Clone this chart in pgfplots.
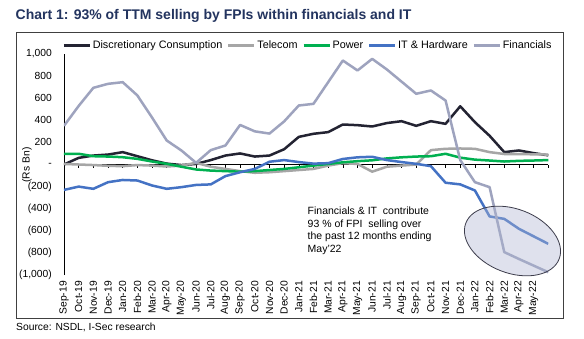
\documentclass[border=0pt]{standalone}
\usepackage{fontspec}
\setmainfont{Liberation Sans}
\usepackage{pgfplots}
\usepackage{pgfplotstable}
\pgfplotsset{compat=1.18}
\definecolor{dcc}{RGB}{35,35,50}
\definecolor{tel}{RGB}{166,166,166}
\definecolor{pow}{RGB}{0,176,80}
\definecolor{itc}{RGB}{68,114,196}
\definecolor{fin}{RGB}{158,163,190}
\definecolor{ttl}{RGB}{35,52,95}
\definecolor{ell}{RGB}{175,182,210}
\definecolor{elld}{RGB}{60,60,75}

\pgfplotstableread{
i dc tel pow it fin
0 0 5 97 -230 350
1 60 0 97 -200 530
2 81 -5 75 -220 694
3 90 -12 72 -160 730
4 112 -15 66 -140 745
5 75 -5 51 -145 625
6 38 -10 27 -190 425
7 8 -18 6 -220 217
8 -5 -10 -20 -205 127
9 5 15 -45 -185 15
10 40 -20 -55 -180 130
11 81 -40 -60 -105 172
12 100 -60 -65 -70 358
13 72 -75 -60 -40 300
14 81 -70 -50 25 280
15 138 -60 -40 40 390
16 250 -50 -25 22 534
17 278 -40 -10 8 549
18 293 -10 5 12 745
19 362 12 20 50 941
20 356 5 30 65 851
21 344 -65 38 70 956
22 375 -20 55 40 860
23 392 -10 65 22 750
24 350 0 72 6 640
25 392 130 75 -15 670
26 368 142 97 -165 579
27 527 145 62 -180 40
28 383 142 44 -235 -160
29 260 112 36 -470 -205
30 112 95 27 -492 -793
31 127 95 33 -582 -855
32 103 92 36 -650 -915
33 83 90 40 -718 -975
}\data

\begin{document}
\begin{tikzpicture}
% image pixel (X,Y) -> (X-64, 275-Y) pt ; axis box lower-left at (0,0)
\begin{scope}[x=1pt,y=1pt,shift={(-64pt,-63pt)}]
\fill[white] (0,0) rectangle (584,338);
\draw[black!75, line width=0.8pt] (16,20) rectangle (563,306);
\node[anchor=base west, font=\bfseries\fontsize{14}{16}\selectfont, text=ttl, inner sep=0pt] at (15.5,318) {Chart 1: 93\% of TTM selling by FPIs within financials and IT};
\node[anchor=base west, font=\fontsize{10.3}{12}\selectfont, inner sep=0pt] at (16,8) {Source: NSDL, I-Sec research};
\node[rotate=90, font=\fontsize{10.3}{12}\selectfont, inner sep=0pt] at (27,173) {(Rs Bn)};
\end{scope}

\begin{axis}[anchor=south west, at={(0pt,0pt)}, scale only axis,
  width=484.3pt, height=221pt,
  xmin=0, xmax=33, ymin=-1000, ymax=1000,
  axis x line=middle, axis y line=left,
  axis line style={-, black, line width=0.8pt},
  hide obscured x ticks=false, hide obscured y ticks=false,
  xtick={0,...,33}, xticklabels={},
  ytick={-1000,-800,...,1000},
  yticklabels={{(1,000)},{(800)},{(600)},{(400)},{(200)},{-},{200},{400},{600},{800},{1,000}},
  tick align=outside, major tick length=3pt,
  x tick style={black, line width=0.6pt},
  y tick style={draw=none},
  yticklabel style={font=\fontsize{10.3}{12}\selectfont, inner sep=0pt, xshift=-9pt},
  legend columns=5,
  legend style={at={(-0.004,1.04)}, anchor=west, draw=none, fill=none, inner sep=0pt,
    font=\fontsize{10.8}{12}\selectfont, nodes={inner sep=1.5pt},
    /tikz/every even column/.append style={column sep=3pt}},
  legend image code/.code={\draw[#1, line width=3pt, line cap=butt] (0pt,0pt) -- (26pt,0pt);},
  every axis plot/.append style={line width=2.5pt, line join=round, no marks},
]
\addplot[dcc] table[x=i, y=dc] {\data};
\addlegendentry{Discretionary Consumption}
\addplot[tel] table[x=i, y=tel] {\data};
\addlegendentry{Telecom}
\addplot[pow] table[x=i, y=pow] {\data};
\addlegendentry{Power}
\addplot[itc] table[x=i, y=it] {\data};
\addlegendentry{IT \& Hardware}
\addplot[fin] table[x=i, y=fin] {\data};
\addlegendentry{Financials}
\end{axis}

\begin{axis}[anchor=south west, at={(0pt,0pt)}, scale only axis,
  width=484.3pt, height=221pt,
  xmin=0, xmax=33, ymin=-1000, ymax=1000,
  axis x line=bottom, axis y line=none,
  x axis line style={draw=none, -},
  xtick={0,...,32},
  xticklabels={Sep-19,Oct-19,Nov-19,Dec-19,Jan-20,Feb-20,Mar-20,Apr-20,May-20,Jun-20,Jul-20,Aug-20,Sep-20,Oct-20,Nov-20,Dec-20,Jan-21,Feb-21,Mar-21,Apr-21,May-21,Jun-21,Jul-21,Aug-21,Sep-21,Oct-21,Nov-21,Dec-21,Jan-22,Feb-22,Mar-22,Apr-22,May-22},
  major tick length=0pt, x tick style={draw=none},
  xticklabel style={rotate=90, anchor=east, font=\fontsize{10.3}{12}\selectfont, inner xsep=6pt, inner ysep=0pt},
  ytick=\empty,
]
\end{axis}

\begin{scope}[x=1pt,y=1pt,shift={(-64pt,-63pt)}]
\filldraw[fill=ell, fill opacity=0.4, draw=elld, line width=0.8pt, rotate around={-21:(512.5,97)}] (512.5,97) ellipse [x radius=50pt, y radius=32pt];
\node[anchor=north west, align=left, inner sep=0pt, font=\fontsize{10.5}{12.5}\selectfont] at (307.5,131) {Financials \& IT~ contribute\\93 \% of FPI~ selling over\\the past 12 months ending\\May'22};
\end{scope}

\pgfresetboundingbox
\path[use as bounding box] (-64pt,-63pt) rectangle (520pt,275pt);
\end{tikzpicture}
\end{document}
